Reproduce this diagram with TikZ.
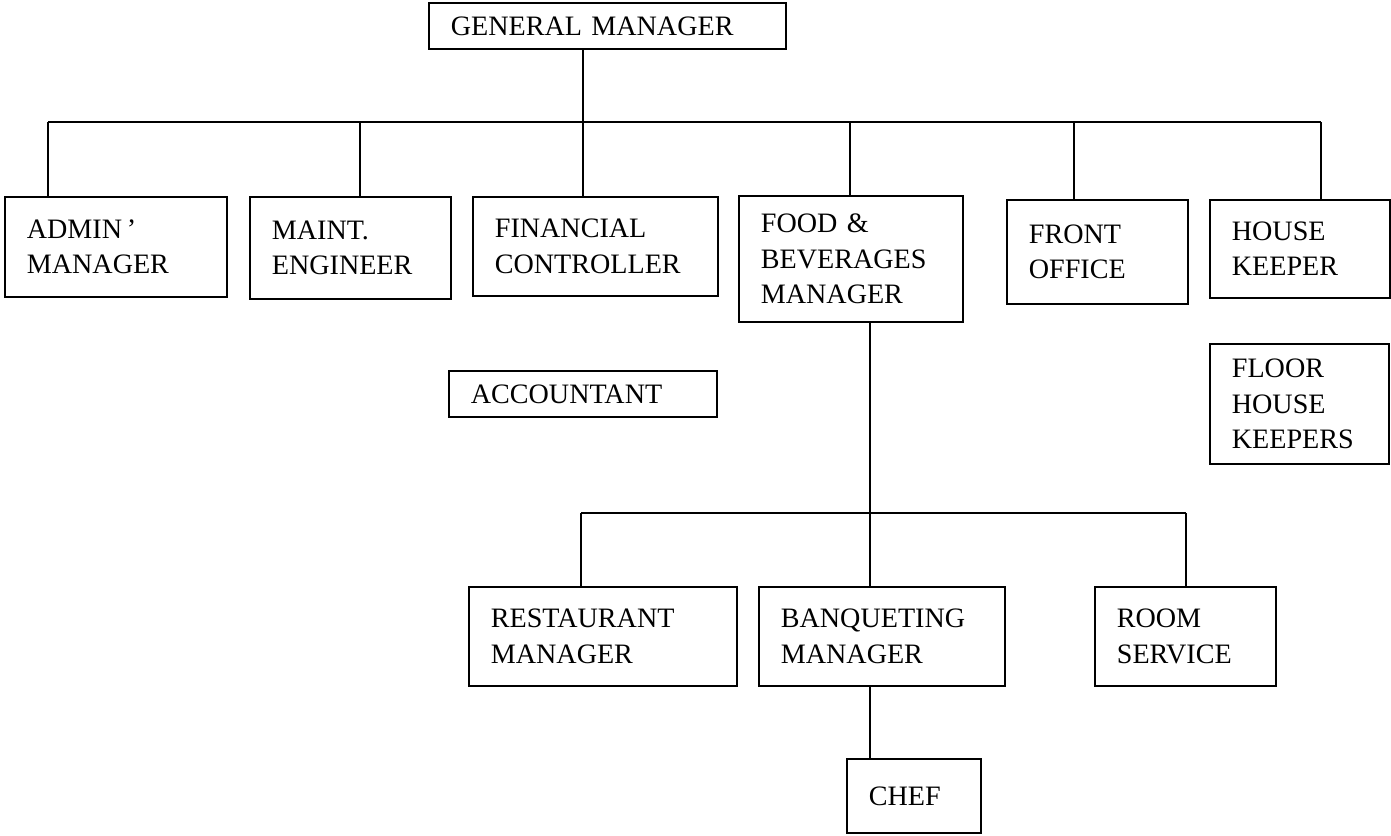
\documentclass[tikz,border=0pt]{standalone}
\usepackage{fontspec}
\setmainfont{Liberation Serif}
\usetikzlibrary{calc}

\tikzset{
	box/.style={draw, anchor=north west, align=left, inner xsep=.44cm, inner ysep=0pt,
		font=\fontsize{16}{20}\selectfont},
}

\begin{document}
\begin{tikzpicture}[x=.02cm, y=-.02cm, line width=1pt]
	\useasboundingbox (0,0) rectangle (1391,835);
	\node[box, text width=6.26cm, minimum height=.92cm] (gm) at (428,2) {GENERAL MANAGER};
	\node[box, text width=3.56cm, minimum height=2cm] (admin) at (4,196) {ADMIN\,'\\MANAGER};
	\node[box, text width=3.14cm, minimum height=2.04cm] (maint) at (249,196) {MAINT.\\ENGINEER};
	\node[box, text width=4.02cm, minimum height=1.98cm] (fin) at (472,196) {FINANCIAL\\CONTROLLER};
	\node[box, text width=3.6cm, minimum height=2.52cm] (fb) at (738,195) {FOOD \&\\BEVERAGES\\MANAGER};
	\node[box, text width=2.74cm, minimum height=2.08cm] (front) at (1006,199) {FRONT\\OFFICE};
	\node[box, text width=2.72cm, minimum height=1.96cm] (hk) at (1209,199) {HOUSE\\KEEPER};
	\node[box, text width=4.48cm, minimum height=.92cm] (acct) at (448,370) {ACCOUNTANT};
	\node[box, text width=2.7cm, minimum height=2.4cm] (floor) at (1209,343) {FLOOR\\HOUSE\\KEEPERS};
	\node[box, text width=4.48cm, minimum height=1.98cm] (rest) at (468,586) {RESTAURANT\\MANAGER};
	\node[box, text width=4.04cm, minimum height=1.98cm] (banq) at (758,586) {BANQUETING\\MANAGER};
	\node[box, text width=2.74cm, minimum height=1.98cm] (room) at (1094,586) {ROOM\\SERVICE};
	\node[box, text width=1.8cm, minimum height=1.48cm] (chef) at (846,758) {CHEF};
	\coordinate (b1) at (48,122);
	\coordinate (b2) at (360,122);
	\coordinate (b3) at (583,122);
	\coordinate (b4) at (850,122);
	\coordinate (b5) at (1074,122);
	\coordinate (b6) at (1321,122);
	\draw (b1) -- (b6);
	\draw (gm.south -| b3) -- (b3 |- fin.north);
	\foreach \n/\b in {admin/b1, maint/b2, fb/b4, front/b5, hk/b6}
		\draw (\b) -- (\b |- \n.north);
	\coordinate (s1) at (581,513);
	\coordinate (s2) at (870,513);
	\coordinate (s3) at (1186,513);
	\draw (s1) -- (s3);
	\draw (s2 |- fb.south) -- (s2 |- banq.north);
	\draw (s1) -- (s1 |- rest.north);
	\draw (s3) -- (s3 |- room.north);
	\draw (s2 |- banq.south) -- (s2 |- chef.north);
\end{tikzpicture}
\end{document}
